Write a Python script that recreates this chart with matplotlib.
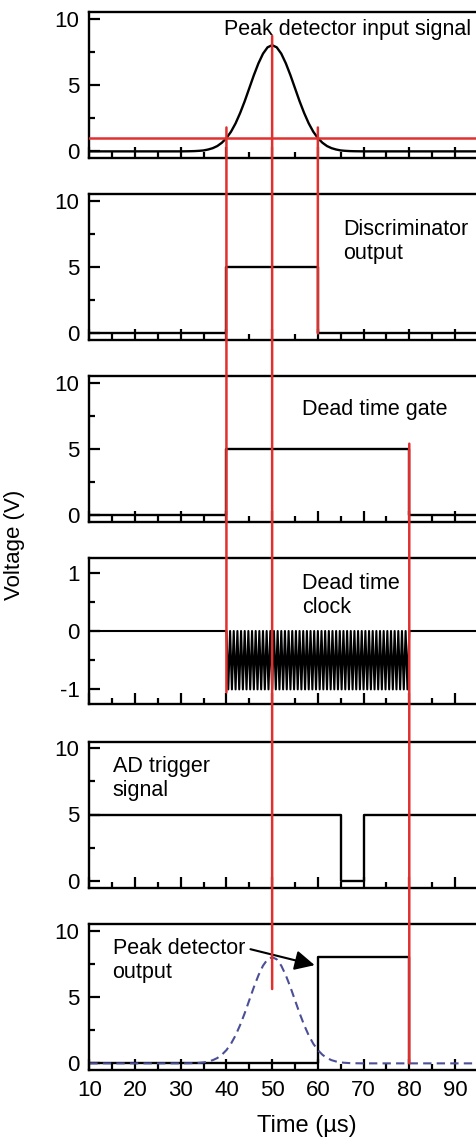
import numpy as np
import matplotlib
matplotlib.use('Agg')
import matplotlib.pyplot as plt
from matplotlib.patches import ConnectionPatch

plt.rcParams['font.family'] = ['Liberation Sans', 'DejaVu Sans']
plt.rcParams['axes.unicode_minus'] = False

# Gaussian input pulse (us, V)
pulse_t = [10, 30, 32, 33, 34, 35, 36, 37, 38, 39, 40, 41, 42, 43, 44, 45, 46, 47, 48, 49,
           50, 51, 52, 53, 54, 55, 56, 57, 58, 59, 60, 61, 62, 63, 64, 65, 66, 67, 68, 70, 100]
pulse_v = [0, 0, 0.01, 0.02, 0.04, 0.07, 0.14, 0.24, 0.40, 0.65, 1.00, 1.48, 2.11, 2.89, 3.78,
           4.76, 5.74, 6.63, 7.36, 7.84, 8.00, 7.84, 7.36, 6.63, 5.74, 4.76, 3.78, 2.89, 2.11,
           1.48, 1.00, 0.65, 0.40, 0.24, 0.14, 0.07, 0.04, 0.02, 0.01, 0, 0]
threshold = 1.0

# step signals (corner points)
disc_t = [10, 40, 40, 60, 60, 100]
disc_v = [0, 0, 5, 5, 0, 0]
gate_t = [10, 40, 40, 80, 80, 100]
gate_v = [0, 0, 5, 5, 0, 0]
trig_t = [10, 65, 65, 70, 70, 100]
trig_v = [5, 5, 0, 0, 5, 5]
hold_t = [10, 60, 60, 80, 80]
hold_v = [0, 0, 8, 8, 0]

# dead time clock: runs while the gate is open
clock_start, clock_stop = 40, 80
clock_cycles = 50
clock_levels = [0, -1]

labels = ['Peak detector input signal', 'Discriminator\noutput', 'Dead time gate',
          'Dead time\nclock', 'AD trigger\nsignal', 'Peak detector\noutput']

W, H = 477, 1148
fig = plt.figure(figsize=(W / 100, H / 100), dpi=100)

tops = [12, 194, 376, 558, 741.5, 924]
ph = 146
left_px = 89.3
px_per_us = 4.571
axes = []
for t in tops:
    ax = fig.add_axes([left_px / W, 1 - (t + ph) / H, 90 * px_per_us / W, ph / H])
    axes.append(ax)

edges = np.linspace(clock_start, clock_stop, 2 * clock_cycles + 1)
clock_t = np.concatenate([[10], np.repeat(edges, 2), [100]])
clock_v = np.concatenate([[0, 0], np.tile([clock_levels[0], clock_levels[1], clock_levels[1], clock_levels[0]], clock_cycles), [0, 0]])
clock_v = clock_v[:len(clock_t)]

lw = 1.7
axes[0].plot(pulse_t, pulse_v, color='black', lw=lw)
axes[0].axhline(threshold, color='#e0312f', lw=1.8, zorder=5)
axes[1].plot(disc_t, disc_v, color='black', lw=lw)
axes[2].plot(gate_t, gate_v, color='black', lw=lw)
axes[3].plot(clock_t, clock_v, color='black', lw=1.5)
axes[4].plot(trig_t, trig_v, color='black', lw=lw)
axes[5].plot(hold_t, hold_v, color='black', lw=lw)
axes[5].plot(pulse_t, pulse_v, color='#4b4f95', lw=1.5, ls=(0, (4, 2.5)))

for i, ax in enumerate(axes):
    ax.set_xlim(10, 100)
    if i == 3:
        ax.set_ylim(-1.25, 1.25)
        ax.set_yticks([-1, 0, 1])
        ax.set_yticks([-0.5, 0.5], minor=True)
    else:
        ax.set_ylim(-0.5, 10.5)
        ax.set_yticks([0, 5, 10])
        ax.set_yticks([2.5, 7.5], minor=True)
    ax.set_xticks(range(10, 100, 10))
    ax.set_xticks(range(15, 100, 10), minor=True)
    ax.tick_params(which='both', direction='in', width=1.6, labelsize=16, pad=7)
    ax.tick_params(which='major', length=8)
    ax.tick_params(which='minor', length=4)
    for s in ax.spines.values():
        s.set_linewidth(1.7)
    if i < 5:
        ax.tick_params(axis='x', labelbottom=False)

fs = 15.5
axes[0].text(93.5, 9.2, labels[0], ha='right', va='center', fontsize=fs)
axes[1].text(65.5, 6.9, labels[1], ha='left', va='center', fontsize=fs, linespacing=1.2)
axes[2].text(56.5, 8.0, labels[2], ha='left', va='center', fontsize=fs)
axes[3].text(56.5, 0.61, labels[3], ha='left', va='center', fontsize=fs, linespacing=1.2)
axes[4].text(15.1, 7.7, labels[4], ha='left', va='center', fontsize=fs, linespacing=1.2)
axes[5].annotate(labels[5], xy=(59.3, 7.4), xytext=(15.1, 7.75), ha='left', va='center',
                 fontsize=fs, linespacing=1.2,
                 arrowprops=dict(arrowstyle='-|>', color='black', lw=1.5, mutation_scale=30,
                                 shrinkA=2, shrinkB=0, relpos=(1.0, 0.78)))

# red markers running across the panels
red = '#e0312f'
for x, (a, ya), (b, yb) in [(40, (0, 1.8), (3, -1.05)),
                            (50, (0, 8.7), (5, 5.6)),
                            (60, (0, 1.8), (1, 0.0)),
                            (80, (2, 5.4), (5, 0.0))]:
    con = ConnectionPatch(xyA=(x, ya), coordsA=axes[a].transData,
                          xyB=(x, yb), coordsB=axes[b].transData,
                          color=red, lw=1.8, zorder=10)
    fig.add_artist(con)

fig.text(15 / W, 1 - 545 / H, 'Voltage (V)', rotation=90, ha='center', va='center', fontsize=16)
fig.text(307 / W, 1 - 1126 / H, 'Time (\u00b5s)', ha='center', va='center', fontsize=17)

fig.savefig('out.png', dpi=100)
